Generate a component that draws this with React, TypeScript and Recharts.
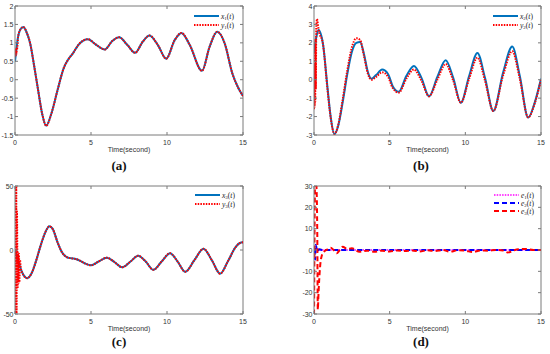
import React from 'react';
import { LineChart, Line, XAxis, YAxis, Legend, ReferenceLine } from 'recharts';

// ---------- data ----------
const X_TICKS = [0, 5, 10, 15];

// panel (a)
const T_A = [0, 0.2, 0.35, 0.55, 0.75, 1.0, 1.25, 1.5, 1.8, 2.05, 2.4, 2.8, 3.2, 3.5, 3.8, 4.2, 4.8, 5.3, 5.9, 6.4, 6.85, 7.4, 7.9, 8.4, 8.85, 9.4, 9.95, 10.5, 10.95, 11.5, 12.3, 12.8, 13.3, 13.8, 14.3, 14.7, 15];
const X1 = [0.49, 1.16, 1.36, 1.43, 1.3, 0.98, 0.4, -0.23, -0.95, -1.25, -0.91, -0.28, 0.31, 0.55, 0.71, 0.96, 1.1, 0.96, 0.82, 1.05, 1.15, 0.94, 0.73, 1.03, 1.2, 0.94, 0.57, 1.07, 1.27, 0.94, 0.24, 0.89, 1.3, 0.98, 0.17, -0.23, -0.44];
const Y1 = [0.8, 1.16, 1.36, 1.43, 1.3, 0.98, 0.4, -0.23, -0.95, -1.25, -0.91, -0.28, 0.31, 0.55, 0.71, 0.96, 1.1, 0.96, 0.82, 1.05, 1.15, 0.94, 0.73, 1.03, 1.2, 0.94, 0.57, 1.07, 1.27, 0.94, 0.24, 0.89, 1.3, 0.98, 0.17, -0.23, -0.44];
const Y1_HEAD_T = [0, 0.03, 0.06, 0.09, 0.12, 0.15];
const Y1_HEAD = [0.8, 0.65, 0.85, 0.68, 0.88, 0.85];
const Y_TICKS_A = [-1.5, -1, -0.5, 0, 0.5, 1, 1.5, 2];

// panel (b)
const T_B = [0, 0.15, 0.3, 0.6, 0.9, 1.1, 1.35, 1.6, 1.9, 2.2, 2.5, 2.8, 3.05, 3.3, 3.55, 3.8, 4.1, 4.5, 4.9, 5.2, 5.6, 6.1, 6.6, 7.1, 7.6, 8.15, 8.7, 9.2, 9.7, 10.25, 10.8, 11.3, 11.85, 12.5, 13.1, 13.6, 14.15, 14.6, 15];
const X2 = [1.5, 2.3, 2.7, 1.9, -0.5, -2.0, -2.95, -2.5, -1.2, 0.3, 1.5, 2.0, 2.05, 1.4, 0.45, 0.05, 0.25, 0.55, 0.3, -0.35, -0.65, 0.2, 0.75, 0.1, -0.9, 0.15, 1.05, 0.1, -1.25, 0.2, 1.45, 0.1, -1.7, 0.4, 1.8, 0.2, -2.05, -1.2, 0.05];
const Y2 = [1.5, 2.3, 2.75, 1.9, -0.6, -2.05, -2.95, -2.45, -1.05, 0.5, 1.75, 2.25, 2.15, 1.3, 0.35, 0.0, 0.15, 0.4, 0.15, -0.45, -0.7, 0.05, 0.55, -0.05, -0.9, 0.0, 0.85, -0.05, -1.25, 0.05, 1.2, -0.05, -1.7, 0.25, 1.55, 0.05, -2.05, -1.25, 0.0];
const Y2_HEAD_T = [0, 0.02, 0.04, 0.06, 0.08, 0.1, 0.12, 0.15, 0.2, 0.25];
const Y2_HEAD = [-1.6, 0.8, -1.5, 1.6, -1.2, 2.2, -0.5, 2.8, 3.3, 3.05];
const Y_TICKS_B = [-3, -2, -1, 0, 1, 2, 3, 4];

// panel (c)
const T_C = [0, 0.2, 0.45, 0.8, 1.1, 1.4, 1.7, 2.0, 2.26, 2.5, 2.8, 3.1, 3.4, 3.7, 4.0, 4.3, 4.6, 5.0, 5.5, 6.05, 6.5, 7.05, 7.6, 8.1, 8.6, 9.1, 9.65, 10.2, 10.7, 11.2, 11.8, 12.4, 12.95, 13.5, 14.0, 14.5, 14.8, 15];
const X3 = [0, -8, -17, -22, -18, -8, 4, 14, 18.5, 16, 6, -2, -5.5, -6.5, -7, -8.5, -10.5, -12, -9, -6, -9, -13.5, -9, -4.5, -9, -15.5, -9, -2.5, -9, -17, -8, 1, -8, -18.5, -9, 2, 5.5, 6];
const Y3 = [0, -8, -17, -22, -18, -8, 4, 14, 18.5, 16, 6, -2, -5.5, -6.5, -7, -8.5, -10.5, -12, -9, -6, -9, -13.5, -9, -4.5, -9, -15.5, -9, -2.5, -9, -17, -8, 1, -8, -18.5, -9, 2, 5.5, 6];
const Y3_HEAD_T = [0, 0.02, 0.04, 0.06, 0.08, 0.1, 0.13, 0.17, 0.2, 0.23, 0.26, 0.29, 0.33, 0.38];
const Y3_HEAD = [60, -60, 60, -60, 55, -60, 30, -30, -2, -26, -3, -25, -8, -14];
const Y_TICKS_C = [-50, 0, 50];

// panel (d)
const T_E1 = [0, 0.05, 0.1, 0.2, 0.4, 1, 3, 15];
const E1 = [0.5, -0.5, 0.3, 0, 0, 0, 0, 0];
const T_E2 = [0, 0.04, 0.08, 0.12, 0.2, 0.35, 0.6, 15];
const E2 = [0, -2, -4.5, 2.5, -0.5, 0.3, 0, 0];
const T_E3 = [0, 0.08, 0.16, 0.22, 0.25, 0.3, 0.4, 0.5, 0.7, 0.9, 1.1, 1.3, 1.5, 1.7, 1.9, 2.2, 2.5, 3, 3.5, 4, 4.5, 5, 5.5, 6, 6.5, 7, 7.5, 8, 8.5, 9, 9.5, 10, 10.5, 11, 11.5, 12, 12.5, 12.8, 13.2, 13.5, 14, 14.5, 15];
const E3 = [-34, 34, 30, 5, -28, -20, -8, -3, -0.5, 0.3, 1, 0, -1.5, 0, 1.5, 0.5, 0.8, -0.8, -0.3, -0.8, -0.3, -0.7, -0.2, -0.5, -0.2, -0.7, -0.1, -0.5, 0, -0.8, -0.1, -0.3, -1, -0.2, -0.3, 0, -0.2, -1.2, -0.2, 0.3, 0.5, 0, 0];
const Y_TICKS_D = [-30, -20, -10, 0, 10, 20, 30];

// ---------- helpers ----------
type Pt = { t: number; v: number };
const zip = (ts: number[], vs: number[]): Pt[] => ts.map((t, i) => ({ t, v: vs[i] }));
const withHead = (ht: number[], hv: number[], ts: number[], vs: number[]): Pt[] => [
  ...zip(ht, hv),
  ...zip(ts, vs).filter((p) => p.t > ht[ht.length - 1]),
];

const SANS = '"Liberation Sans", Arial, Helvetica, sans-serif';
const SERIF = '"Liberation Serif", "Times New Roman", serif';
const FRAME = '#7a7a7a';
const TXT = '#333';
const BLUE = '#0072BD';
const RED = '#FF0000';

type Series = { data: Pt[]; color: string; width: number; dash?: string; sym: string; sub: string };

const LegendItem = ({ sym, sub }: { sym: string; sub: string }) => null;

function Panel(props: {
  x: number; y: number; box: [number, number, number, number];
  yDomain: [number, number]; yTicks: number[]; series: Series[];
  legendPos: [number, number]; legendGap: number; tag: string; tagPos: [number, number];
}) {
  const W = 275, H = 177;
  const [pl, pr, pt, pb] = props.box;
  const xTick = (p: any) => {
    const x = p.x;
    return (
      <g>
        <line x1={x} x2={x} y1={pb} y2={pb - 3} stroke={FRAME} />
        <line x1={x} x2={x} y1={pt} y2={pt + 3} stroke={FRAME} />
        <text x={x} y={pb + 9.5} textAnchor="middle" fontSize={7} fill={TXT} fontFamily={SANS}>{String(p.payload.value)}</text>
      </g>
    );
  };
  const yTick = (p: any) => {
    const y = p.y;
    return (
      <g>
        <line x1={pl} x2={pl + 3} y1={y} y2={y} stroke={FRAME} />
        <line x1={pr} x2={pr - 3} y1={y} y2={y} stroke={FRAME} />
        <text x={pl - 1.5} y={y + 2.5} textAnchor="end" fontSize={7} fill={TXT} fontFamily={SANS}>{String(p.payload.value)}</text>
      </g>
    );
  };
  const gap = props.legendGap;
  const legendContent = () => (
    <svg width={80} height={props.series.length * gap + 6} style={{ display: 'block' }}>
      {props.series.map((s, i) => {
        const ly = 4 + i * gap;
        return (
          <g key={i}>
            <line x1={4} x2={29} y1={ly} y2={ly} stroke={s.color} strokeWidth={s.width} strokeDasharray={s.dash} />
            <text x={31} y={ly + 2.5} fontSize={7.5} fill="#222" fontFamily={SERIF}>
              <tspan fontStyle="italic">{s.sym}</tspan>
              <tspan fontSize={5} dy={1.5}>{s.sub}</tspan>
              <tspan dy={-1.5}>(</tspan>
              <tspan fontStyle="italic">t</tspan>
              <tspan>)</tspan>
            </text>
          </g>
        );
      })}
    </svg>
  );
  return (
    <div style={{ position: 'absolute', left: props.x, top: props.y, width: W, height: H }}>
      <LineChart width={W} height={H} margin={{ top: pt, right: W - pr, left: 0, bottom: 0 }}>
        <XAxis
          dataKey="t" type="number" domain={[0, 15]} ticks={X_TICKS} interval={0}
          height={H - pb} tick={xTick} tickLine={false} axisLine={{ stroke: FRAME }} allowDataOverflow
          label={{
            content: () => (
              <text x={(pl + pr) / 2} y={pb + 16.5} textAnchor="middle" fontSize={7} fill={TXT} fontFamily={SANS}>Time(second)</text>
            ),
          }}
        />
        <YAxis
          type="number" domain={props.yDomain} ticks={props.yTicks} interval={0}
          width={pl} tick={yTick} tickLine={false} axisLine={{ stroke: FRAME }} allowDataOverflow
        />
        <ReferenceLine y={props.yDomain[1]} stroke={FRAME} />
        <ReferenceLine x={15} stroke={FRAME} />
        {props.series.map((s, i) => (
          <Line
            key={i} data={s.data} dataKey="v" type="monotone" stroke={s.color} strokeWidth={s.width}
            strokeDasharray={s.dash} dot={false} activeDot={false} isAnimationActive={false}
          />
        ))}
        <Legend
          layout="horizontal" verticalAlign="middle" align="center"
          wrapperStyle={{ left: props.legendPos[0], top: props.legendPos[1], width: 80, height: props.series.length * gap + 6 }}
          content={legendContent}
        />
      </LineChart>
      <div
        style={{
          position: 'absolute', left: props.tagPos[0] - 20, width: 40, top: props.tagPos[1] - 8, height: 16,
          lineHeight: '16px', textAlign: 'center', fontFamily: SERIF, fontWeight: 'bold', fontSize: 13, color: '#111',
        }}
      >
        {props.tag}
      </div>
    </div>
  );
}

export default function App() {
  const sA: Series[] = [
    { data: zip(T_A, X1), color: BLUE, width: 2, sym: 'x', sub: '1' },
    { data: withHead(Y1_HEAD_T, Y1_HEAD, T_A, Y1), color: RED, width: 2, dash: '1.5 1.2', sym: 'y', sub: '1' },
  ];
  const sB: Series[] = [
    { data: zip(T_B, X2), color: BLUE, width: 2, sym: 'x', sub: '2' },
    { data: withHead(Y2_HEAD_T, Y2_HEAD, T_B, Y2), color: RED, width: 2, dash: '1.5 1.2', sym: 'y', sub: '2' },
  ];
  const sC: Series[] = [
    { data: zip(T_C, X3), color: BLUE, width: 2, sym: 'x', sub: '3' },
    { data: withHead(Y3_HEAD_T, Y3_HEAD, T_C, Y3), color: RED, width: 2, dash: '1.5 1.2', sym: 'y', sub: '3' },
  ];
  const sD: Series[] = [
    { data: zip(T_E1, E1), color: '#FF00FF', width: 1.5, dash: '1.5 1.2', sym: 'e', sub: '1' },
    { data: zip(T_E2, E2), color: '#0000FF', width: 2, dash: '5 3', sym: 'e', sub: '2' },
    { data: zip(T_E3, E3), color: RED, width: 2, dash: '5 3', sym: 'e', sub: '3' },
  ];
  return (
    <div style={{ position: 'absolute', left: 0, top: 0, width: 550, height: 354, background: '#fff', overflow: 'hidden' }}>
      <Panel x={0} y={0} box={[15, 243, 6, 135]} yDomain={[-1.5, 2]} yTicks={Y_TICKS_A} series={sA}
        legendPos={[190, 12]} legendGap={9} tag="(a)" tagPos={[119, 166]} />
      <Panel x={275} y={0} box={[39, 266, 6, 135]} yDomain={[-3, 4]} yTicks={Y_TICKS_B} series={sB}
        legendPos={[214, 12]} legendGap={9} tag="(b)" tagPos={[146, 166]} />
      <Panel x={0} y={177} box={[15, 243, 9, 137]} yDomain={[-50, 50]} yTicks={Y_TICKS_C} series={sC}
        legendPos={[191, 14]} legendGap={9} tag="(c)" tagPos={[119, 165]} />
      <Panel x={275} y={177} box={[39, 266, 9, 137]} yDomain={[-30, 30]} yTicks={Y_TICKS_D} series={sD}
        legendPos={[215, 14]} legendGap={8} tag="(d)" tagPos={[146, 165]} />
    </div>
  );
}
